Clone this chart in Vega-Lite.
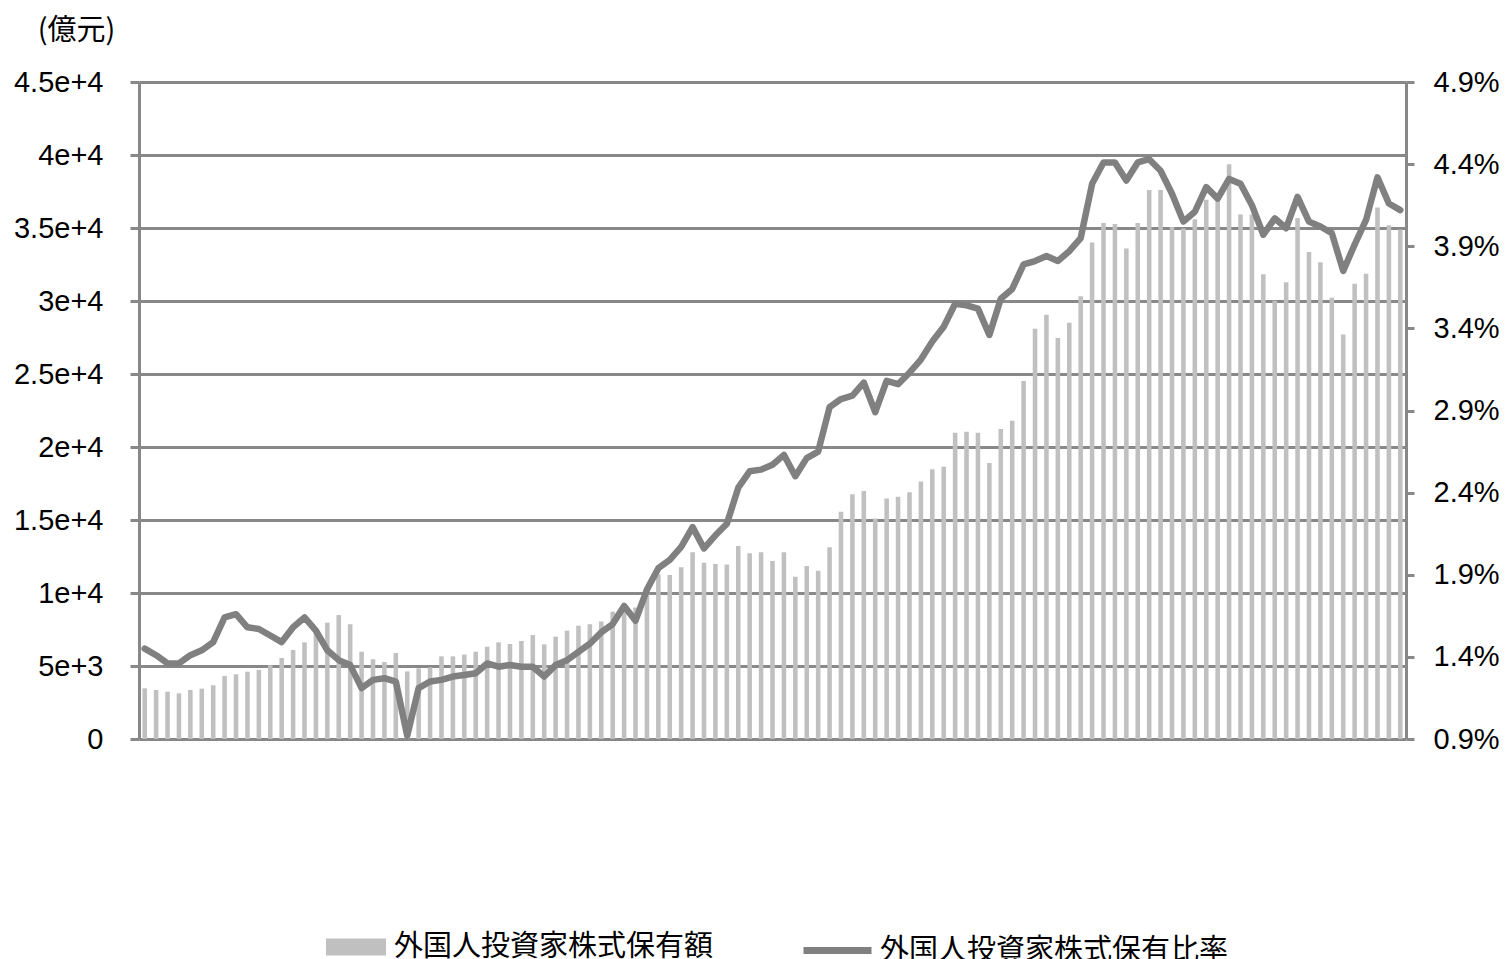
{
  "$schema": "https://vega.github.io/schema/vega-lite/v6.json",
  "width": 1267,
  "height": 657,
  "autosize": {"type": "none"},
  "padding": {"left": 139, "top": 82, "right": 100, "bottom": 220},
  "background": "#ffffff",
  "config": {
    "view": {"stroke": null},
    "font": "Liberation Sans",
    "axis": {
      "labelColor": "#000000",
      "domainColor": "#888888",
      "tickColor": "#888888",
      "gridColor": "#888888",
      "titleColor": "#000000",
      "titleFontWeight": "normal"
    },
    "legend": {"padding": 0, "labelColor": "#000000"}
  },
  "data": {
    "values": [
      {"m": "2013-12", "v": 3470, "r": 1.45},
      {"m": "2014-01", "v": 3360, "r": 1.41},
      {"m": "2014-02", "v": 3240, "r": 1.36},
      {"m": "2014-03", "v": 3130, "r": 1.36},
      {"m": "2014-04", "v": 3360, "r": 1.41},
      {"m": "2014-05", "v": 3450, "r": 1.44},
      {"m": "2014-06", "v": 3680, "r": 1.49},
      {"m": "2014-07", "v": 4310, "r": 1.64},
      {"m": "2014-08", "v": 4430, "r": 1.66},
      {"m": "2014-09", "v": 4610, "r": 1.58},
      {"m": "2014-10", "v": 4730, "r": 1.57},
      {"m": "2014-11", "v": 5050, "r": 1.53},
      {"m": "2014-12", "v": 5550, "r": 1.49},
      {"m": "2015-01", "v": 6100, "r": 1.58},
      {"m": "2015-02", "v": 6620, "r": 1.64},
      {"m": "2015-03", "v": 7300, "r": 1.56},
      {"m": "2015-04", "v": 7970, "r": 1.44},
      {"m": "2015-05", "v": 8490, "r": 1.38},
      {"m": "2015-06", "v": 7860, "r": 1.35},
      {"m": "2015-07", "v": 5980, "r": 1.21},
      {"m": "2015-08", "v": 5460, "r": 1.26},
      {"m": "2015-09", "v": 5270, "r": 1.27},
      {"m": "2015-10", "v": 5890, "r": 1.25},
      {"m": "2015-11", "v": 4630, "r": 0.92},
      {"m": "2016-01", "v": 4840, "r": 1.21},
      {"m": "2016-02", "v": 4910, "r": 1.25},
      {"m": "2016-03", "v": 5660, "r": 1.26},
      {"m": "2016-04", "v": 5660, "r": 1.28},
      {"m": "2016-05", "v": 5780, "r": 1.29},
      {"m": "2016-06", "v": 5980, "r": 1.30},
      {"m": "2016-07", "v": 6320, "r": 1.36},
      {"m": "2016-08", "v": 6620, "r": 1.34},
      {"m": "2016-09", "v": 6510, "r": 1.35},
      {"m": "2016-10", "v": 6710, "r": 1.34},
      {"m": "2016-11", "v": 7120, "r": 1.34},
      {"m": "2016-12", "v": 6480, "r": 1.28},
      {"m": "2017-01", "v": 7010, "r": 1.35},
      {"m": "2017-02", "v": 7420, "r": 1.38},
      {"m": "2017-03", "v": 7760, "r": 1.43},
      {"m": "2017-04", "v": 7860, "r": 1.48},
      {"m": "2017-05", "v": 8050, "r": 1.55},
      {"m": "2017-06", "v": 8720, "r": 1.60},
      {"m": "2017-07", "v": 8800, "r": 1.71},
      {"m": "2017-08", "v": 9000, "r": 1.62},
      {"m": "2017-09", "v": 10300, "r": 1.81},
      {"m": "2017-10", "v": 11280, "r": 1.94},
      {"m": "2017-11", "v": 11230, "r": 1.99},
      {"m": "2017-12", "v": 11760, "r": 2.07},
      {"m": "2018-01", "v": 12790, "r": 2.19},
      {"m": "2018-02", "v": 12080, "r": 2.06},
      {"m": "2018-03", "v": 11990, "r": 2.14},
      {"m": "2018-04", "v": 11960, "r": 2.21},
      {"m": "2018-05", "v": 13220, "r": 2.43},
      {"m": "2018-06", "v": 12720, "r": 2.53},
      {"m": "2018-07", "v": 12790, "r": 2.54},
      {"m": "2018-08", "v": 12190, "r": 2.57},
      {"m": "2018-09", "v": 12790, "r": 2.63},
      {"m": "2018-10", "v": 11120, "r": 2.50},
      {"m": "2018-11", "v": 11850, "r": 2.61},
      {"m": "2018-12", "v": 11530, "r": 2.65},
      {"m": "2019-01", "v": 13130, "r": 2.92},
      {"m": "2019-02", "v": 15570, "r": 2.97},
      {"m": "2019-03", "v": 16760, "r": 2.99},
      {"m": "2019-04", "v": 16990, "r": 3.07},
      {"m": "2019-05", "v": 15110, "r": 2.89},
      {"m": "2019-06", "v": 16480, "r": 3.08},
      {"m": "2019-07", "v": 16600, "r": 3.06},
      {"m": "2019-08", "v": 16900, "r": 3.13},
      {"m": "2019-09", "v": 17630, "r": 3.21},
      {"m": "2019-10", "v": 18470, "r": 3.32},
      {"m": "2019-11", "v": 18650, "r": 3.41},
      {"m": "2019-12", "v": 20980, "r": 3.55},
      {"m": "2020-01", "v": 21050, "r": 3.54},
      {"m": "2020-02", "v": 20980, "r": 3.52},
      {"m": "2020-03", "v": 18900, "r": 3.36},
      {"m": "2020-04", "v": 21230, "r": 3.58},
      {"m": "2020-05", "v": 21800, "r": 3.64},
      {"m": "2020-06", "v": 24520, "r": 3.79},
      {"m": "2020-07", "v": 28100, "r": 3.81},
      {"m": "2020-08", "v": 29060, "r": 3.84},
      {"m": "2020-09", "v": 27460, "r": 3.81},
      {"m": "2020-10", "v": 28510, "r": 3.87},
      {"m": "2020-11", "v": 30330, "r": 3.95},
      {"m": "2020-12", "v": 34000, "r": 4.28},
      {"m": "2021-01", "v": 35340, "r": 4.41},
      {"m": "2021-02", "v": 35280, "r": 4.41},
      {"m": "2021-03", "v": 33590, "r": 4.30},
      {"m": "2021-04", "v": 35340, "r": 4.41},
      {"m": "2021-05", "v": 37610, "r": 4.43},
      {"m": "2021-06", "v": 37610, "r": 4.36},
      {"m": "2021-07", "v": 35060, "r": 4.22},
      {"m": "2021-08", "v": 34960, "r": 4.05},
      {"m": "2021-09", "v": 35600, "r": 4.11},
      {"m": "2021-10", "v": 36940, "r": 4.26},
      {"m": "2021-11", "v": 36940, "r": 4.19},
      {"m": "2021-12", "v": 39370, "r": 4.31},
      {"m": "2022-01", "v": 35920, "r": 4.28},
      {"m": "2022-02", "v": 35920, "r": 4.15},
      {"m": "2022-03", "v": 31830, "r": 3.97},
      {"m": "2022-04", "v": 30010, "r": 4.07},
      {"m": "2022-05", "v": 31290, "r": 4.01},
      {"m": "2022-06", "v": 35690, "r": 4.20},
      {"m": "2022-07", "v": 33360, "r": 4.05},
      {"m": "2022-08", "v": 32660, "r": 4.02},
      {"m": "2022-09", "v": 30230, "r": 3.98},
      {"m": "2022-10", "v": 27710, "r": 3.75},
      {"m": "2022-11", "v": 31190, "r": 3.91},
      {"m": "2022-12", "v": 31860, "r": 4.06},
      {"m": "2023-01", "v": 36400, "r": 4.32},
      {"m": "2023-02", "v": 35190, "r": 4.16},
      {"m": "2023-03", "v": 34900, "r": 4.12}
    ]
  },
  "layer": [
    {
      "mark": {"type": "bar", "width": {"band": 0.4}},
      "encoding": {
        "x": {
          "field": "m",
          "type": "ordinal",
          "sort": null,
          "scale": {"paddingInner": 0, "paddingOuter": 0},
          "axis": {
            "orient": "bottom",
            "title": null,
            "domainWidth": 3,
            "tickBand": "extent",
            "tickWidth": 3,
            "tickSize": 48,
            "labelAngle": 0,
            "labelFontSize": 25,
            "labelBaseline": "middle",
            "labelPadding": -14,
            "labelOverlap": false,
            "labelBound": false,
            "labelFlush": false,
            "labelExpr": "(toNumber(slice(datum.value, 0, 4)) <= 2015 ? toNumber(slice(datum.value, 5)) % 2 == 0 : toNumber(slice(datum.value, 5)) % 2 == 1) ? toNumber(slice(datum.value, 5)) + '' : ''"
          }
        },
        "y": {
          "field": "v",
          "type": "quantitative",
          "scale": {"domain": [0, 45000], "nice": false},
          "axis": {
            "orient": "left",
            "title": "(億元)",
            "titleFont": "Noto Sans CJK JP",
            "titleFontSize": 29,
            "titleAngle": 0,
            "titleAlign": "center",
            "titleBaseline": "middle",
            "titleX": -63,
            "titleY": -52,
            "values": [0, 5000, 10000, 15000, 20000, 25000, 30000, 35000, 40000, 45000],
            "format": ",",
            "labelFontSize": 29,
            "labelPadding": 27,
            "tickSize": 9,
            "tickWidth": 3,
            "domainWidth": 3,
            "grid": true,
            "gridWidth": 3
          }
        },
        "fill": {
          "datum": "外国人投資家株式保有額",
          "type": "nominal",
          "scale": {"range": ["#c0c0c0"]},
          "legend": {
            "orient": "none",
            "legendX": 187,
            "legendY": 835,
            "title": null,
            "symbolType": "M-1,-0.28H1V0.28H-1Z",
            "symbolSize": 3600,
            "symbolStrokeWidth": 0,
            "labelFont": "Noto Sans CJK JP",
            "labelFontSize": 29,
            "labelOffset": 8,
            "labelLimit": 600
          }
        }
      }
    },
    {
      "mark": {"type": "line", "strokeWidth": 6.5, "strokeJoin": "round", "strokeCap": "round"},
      "encoding": {
        "x": {
          "field": "m",
          "type": "ordinal",
          "sort": null,
          "axis": null
        },
        "y": {
          "field": "r",
          "type": "quantitative",
          "scale": {"domain": [0.9, 4.9], "nice": false, "zero": false},
          "axis": {
            "orient": "right",
            "title": null,
            "values": [0.9, 1.4, 1.9, 2.4, 2.9, 3.4, 3.9, 4.4, 4.9],
            "labelExpr": "format(datum.value, '.1f') + '%'",
            "labelFontSize": 29,
            "labelPadding": 19,
            "tickSize": 8,
            "tickWidth": 3,
            "domainWidth": 3,
            "grid": false
          }
        },
        "stroke": {
          "datum": "外国人投資家株式保有比率",
          "type": "nominal",
          "scale": {"range": ["#808080"]},
          "legend": {
            "orient": "none",
            "legendX": 661,
            "legendY": 831,
            "title": null,
            "symbolType": "stroke",
            "symbolSize": 4624,
            "symbolStrokeWidth": 7,
            "labelFont": "Noto Sans CJK JP",
            "labelFontSize": 29,
            "labelOffset": 5,
            "labelLimit": 600
          }
        }
      }
    }
  ],
  "resolve": {
    "scale": {"y": "independent"}
  }
}
